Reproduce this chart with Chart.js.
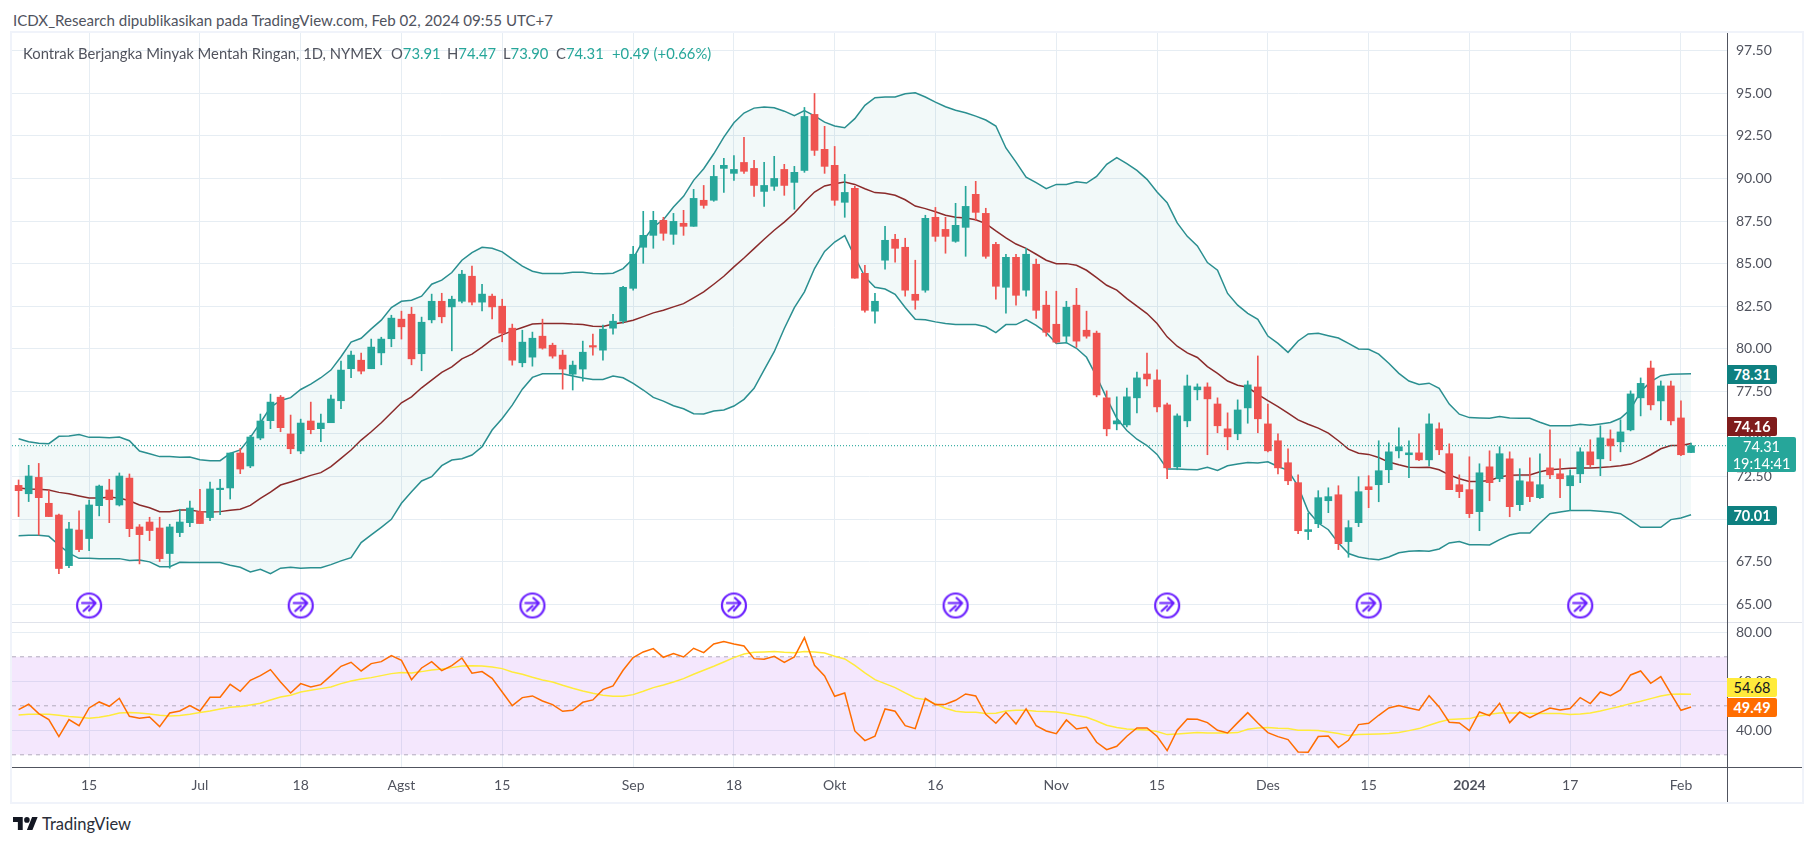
<!DOCTYPE html>
<html>
<head>
<meta charset="utf-8">
<title>Kontrak Berjangka Minyak Mentah Ringan</title>
<script src="https://cdn.jsdelivr.net/npm/chart.js@4/dist/chart.umd.js"></script>
<style>
  html,body{margin:0;padding:0;background:#fff;width:1815px;height:846px;overflow:hidden;font-family:Lato,sans-serif;color:#50535e;}
  canvas{position:absolute;display:block;}
  .txt{position:absolute;white-space:pre;font-size:14.8px;line-height:18px;}
  .line{position:absolute;}
  .box{position:absolute;left:1727px;width:50px;text-align:center;color:#fff;font-size:14.5px;font-weight:700;border-radius:0 2px 2px 0;}
  .g{color:#26a69a;}
</style>
</head>
<body>
<div class="txt" id="title" style="left:13px;top:11px;font-size:15.1px;">ICDX_Research dipublikasikan pada TradingView.com, Feb 02, 2024 09:55 UTC+7</div>
<div class="line" style="left:10px;top:31px;width:1790px;height:769px;border:2px solid #f0f3fa;"></div>
<canvas id="priceChart" width="1790" height="589" style="left:12px;top:33px;"></canvas>
<canvas id="rsiChart" width="1790" height="180" style="left:12px;top:622px;"></canvas>
<div class="line" style="left:12px;top:622px;width:1790px;height:1px;background:#e0e3eb;"></div>
<div class="line" style="left:12px;top:767px;width:1790px;height:1px;background:#50535e;"></div>
<div class="line" style="left:1727px;top:33px;width:1px;height:769px;background:#50535e;"></div>
<div class="txt" style="left:23px;top:44px;">Kontrak Berjangka Minyak Mentah Ringan, 1D, NYMEX</div>
<div class="txt" style="left:391px;top:44px;">O<span class="g">73.91</span></div>
<div class="txt" style="left:447px;top:44px;">H<span class="g">74.47</span></div>
<div class="txt" style="left:503px;top:44px;">L<span class="g">73.90</span></div>
<div class="txt" style="left:556px;top:44px;">C<span class="g">74.31</span></div>
<div class="txt g" style="left:612px;top:44px;">+0.49 (+0.66%)</div>
<div class="box" style="top:365px;height:19px;line-height:19px;background:#0e8080;">78.31</div>
<div class="box" style="top:417px;height:19px;line-height:19px;background:#801c1c;">74.16</div>
<div class="box" style="top:437px;height:35px;width:69px;line-height:17px;padding-top:1px;box-sizing:border-box;background:#26a69a;font-weight:400;">74.31<br>19:14:41</div>
<div class="box" style="top:506px;height:19px;line-height:19px;background:#0e8080;">70.01</div>
<div class="box" style="top:678px;height:19px;line-height:19px;background:#ffeb3b;color:#131722;font-weight:400;">54.68</div>
<div class="box" style="top:698px;height:19px;line-height:19px;background:#ff6d00;">49.49</div>
<svg class="line" style="left:13px;top:817px;" width="25" height="13" viewBox="0 4 36 18" preserveAspectRatio="none"><path fill="#131722" d="M14 22H7V11H0V4h14v18zM28 22h-8l7.5-18h8L28 22z"/><circle fill="#131722" cx="20" cy="8" r="4"/></svg>
<div class="txt" style="left:42px;top:815px;font-size:16.5px;color:#2a2e39;">TradingView</div>
<script>
// ===== DATA =====
const opens=[
71.98,71.49,72.45,70.93,70.24,67.27,69.36,68.86,70.79,71.71,
70.83,72.41,69.54,69.83,69.48,67.98,69.21,69.79,70.44,70.09,
71.73,71.83,73.88,73.12,74.76,75.78,77.16,75.00,74.00,75.76,
75.31,75.66,76.95,78.83,79.33,78.83,79.76,80.59,81.74,82.03,
79.71,81.70,82.79,82.46,82.79,84.26,82.74,83.09,82.50,81.21,
79.18,79.51,80.74,80.21,79.63,78.51,78.81,80.16,79.92,81.21,
81.62,83.55,85.96,86.66,87.54,86.72,87.37,87.19,88.72,88.72,
90.59,90.30,90.94,90.59,89.24,89.54,90.53,89.77,90.47,93.76,
91.71,90.77,88.60,89.42,84.43,82.21,85.20,86.43,85.96,83.20,
83.44,87.72,87.01,86.31,87.13,89.07,87.95,86.13,83.61,85.37,
83.44,84.96,82.56,81.44,80.74,82.56,81.09,80.92,77.12,75.59,
75.53,77.12,78.52,78.17,76.71,73.07,75.77,77.59,77.76,76.76,
75.30,75.01,76.53,77.76,75.59,74.60,73.31,72.14,69.27,69.73,
71.08,71.43,68.68,69.79,71.90,72.02,72.90,74.01,73.78,73.89,
73.48,75.30,73.84,72.02,71.73,70.44,73.07,72.37,73.54,70.85,
72.19,71.26,73.01,72.66,71.96,72.66,73.95,73.54,74.71,74.54,
75.24,77.12,78.87,76.94,77.82,75.94,73.91];
const highs=[
72.30,73.16,73.27,71.71,70.30,69.81,70.48,71.12,72.00,72.34,
72.71,72.65,69.68,70.11,70.11,69.70,70.58,71.06,71.75,72.18,
72.34,73.88,74.15,74.92,76.17,77.34,77.26,76.11,75.87,76.87,
76.17,77.28,79.28,79.86,79.75,80.57,80.68,81.97,82.21,82.44,
81.86,83.21,83.26,83.09,84.61,84.85,83.79,83.21,82.91,81.45,
81.09,80.98,81.74,80.33,79.92,79.28,80.45,80.86,81.39,82.03,
83.67,86.02,88.07,88.07,87.72,87.95,88.13,89.36,89.59,90.77,
91.18,91.35,92.41,91.06,90.94,91.30,90.83,90.71,94.17,94.99,
93.06,91.88,90.24,89.54,84.90,83.26,87.19,86.72,86.49,85.20,
87.84,88.30,87.72,88.54,89.54,89.83,88.25,86.25,85.55,85.55,
85.90,85.26,83.38,83.38,82.79,83.55,82.21,81.04,77.53,77.18,
77.70,78.64,79.75,78.76,76.82,76.18,78.46,77.94,78.00,77.12,
76.24,77.00,78.11,79.58,76.76,75.01,74.13,72.60,70.36,71.67,
71.84,71.96,69.91,72.49,72.55,74.60,74.48,75.36,74.60,75.01,
76.18,75.65,74.42,72.60,73.66,73.25,74.01,74.25,73.95,72.96,
73.60,73.84,75.24,73.54,72.90,74.19,74.66,75.48,75.24,75.83,
77.53,78.29,79.28,78.11,78.11,76.94,74.47];
const lows=[
70.15,71.03,69.07,70.15,66.80,67.15,68.09,68.15,70.19,69.79,
70.77,68.97,67.37,68.74,67.51,67.12,68.97,69.56,69.74,69.91,
70.26,71.18,72.67,73.02,74.66,75.31,75.13,73.84,73.84,75.01,
74.54,75.66,76.48,78.30,78.53,78.83,79.06,80.12,80.57,79.06,
78.71,81.52,81.52,79.88,82.70,82.58,82.23,81.76,80.41,79.04,
78.94,78.98,79.98,79.45,77.63,77.58,78.10,79.63,79.33,80.86,
81.50,83.44,85.02,85.90,86.37,86.13,86.66,87.19,88.25,88.66,
89.18,89.89,90.30,88.95,88.36,89.30,89.01,88.19,90.36,91.35,
90.30,88.42,87.72,84.14,82.15,81.50,84.67,85.08,83.09,82.32,
83.32,86.31,85.61,86.25,85.43,87.54,85.31,82.91,82.09,82.56,
83.09,81.79,80.74,80.33,80.33,80.09,80.62,77.18,74.89,75.24,
75.42,76.24,77.82,76.30,72.37,72.90,75.42,77.00,73.78,75.07,
74.07,74.66,75.63,75.07,73.95,72.66,72.02,69.15,68.80,69.50,
70.38,68.21,67.76,69.56,70.67,71.02,72.14,73.60,72.43,73.43,
73.13,73.78,71.73,71.26,70.09,69.32,71.08,72.20,70.14,70.50,
71.02,71.20,72.37,71.26,70.50,72.14,73.07,72.55,73.43,73.95,
75.18,76.06,76.41,75.83,75.53,73.72,73.90];
const closes=[
71.67,72.53,71.26,70.15,67.10,69.42,68.21,70.83,71.94,71.14,
72.53,69.44,69.09,69.33,67.68,69.54,69.83,70.65,69.74,71.77,
71.77,73.88,72.94,74.82,75.76,76.87,75.37,74.13,75.64,75.25,
75.64,77.05,78.75,79.63,78.69,80.10,80.57,81.80,81.29,79.41,
81.56,82.79,81.88,82.91,84.38,82.74,83.21,82.46,80.92,79.33,
80.39,80.62,80.04,79.57,78.81,79.04,79.80,80.10,81.15,81.62,
83.61,85.55,86.66,87.54,86.78,87.48,87.19,88.83,88.42,90.12,
90.77,90.53,90.42,89.59,89.59,90.00,89.59,90.36,93.64,91.65,
90.71,88.72,89.18,84.14,82.26,82.79,86.37,85.90,83.44,82.85,
87.66,86.60,86.60,87.25,88.36,88.01,85.43,83.67,85.37,83.14,
85.55,82.26,80.97,80.39,82.44,80.45,80.74,77.29,75.30,75.77,
77.18,78.29,78.23,76.59,73.01,76.06,77.82,77.76,77.06,75.48,
74.83,76.41,77.88,75.89,74.01,73.01,72.25,69.32,69.38,71.26,
71.32,68.56,69.50,71.61,71.73,72.84,73.95,74.25,73.89,73.48,
75.59,74.07,71.73,71.61,70.32,72.72,72.14,73.84,70.73,72.25,
71.32,72.02,72.60,72.37,72.55,73.95,73.19,74.77,74.30,75.12,
77.35,77.97,76.71,77.82,75.77,73.78,74.31];
const bbUpper=[
74.72,74.54,74.45,74.43,74.86,74.88,74.97,74.80,74.80,74.78,
74.82,74.60,74.00,73.84,73.67,73.67,73.63,73.65,73.49,73.43,
73.43,73.86,74.06,74.80,75.66,76.56,76.97,77.13,77.61,77.93,
78.30,78.75,79.53,80.39,80.62,81.17,81.68,82.42,82.79,82.85,
83.09,83.79,84.03,84.48,85.20,85.65,85.96,85.90,85.69,85.26,
84.85,84.55,84.42,84.42,84.42,84.50,84.50,84.42,84.40,84.44,
84.71,85.29,86.37,87.15,87.58,88.32,88.95,89.89,90.57,91.45,
92.43,93.27,93.84,94.13,94.19,94.15,93.95,93.68,93.99,93.68,
93.31,93.08,92.98,93.51,94.29,94.74,94.78,94.78,94.97,95.03,
94.78,94.48,94.21,94.01,93.86,93.66,93.43,93.08,91.79,90.96,
90.08,89.75,89.40,89.65,89.65,89.81,89.73,90.12,90.83,91.22,
90.87,90.47,89.95,89.20,88.58,87.39,86.60,86.04,85.06,84.61,
83.25,82.56,82.08,81.73,80.75,80.32,79.79,80.46,80.87,80.91,
80.77,80.63,80.32,79.99,79.97,79.69,79.15,78.56,78.11,77.90,
77.98,77.68,76.75,76.16,75.96,75.94,75.92,76.02,75.94,75.92,
75.92,75.69,75.48,75.48,75.48,75.57,75.51,75.59,75.67,75.92,
76.45,77.49,78.07,78.42,78.50,78.52,78.54];
const bbMiddle=[
71.83,71.77,71.75,71.71,71.57,71.49,71.36,71.24,71.24,71.28,
71.24,71.08,70.83,70.67,70.44,70.44,70.54,70.54,70.44,70.42,
70.44,70.52,70.58,70.81,71.22,71.59,72.00,72.18,72.37,72.57,
72.73,73.08,73.57,74.06,74.64,75.13,75.66,76.25,76.83,77.18,
77.71,78.16,78.61,78.94,79.41,79.69,80.10,80.55,80.82,81.05,
81.25,81.45,81.49,81.49,81.49,81.45,81.43,81.33,81.31,81.45,
81.54,81.68,81.89,82.11,82.26,82.46,82.65,82.99,83.34,83.79,
84.26,84.81,85.33,85.88,86.43,86.96,87.44,87.97,88.62,89.20,
89.56,89.69,89.79,89.65,89.40,89.17,89.13,89.01,88.75,88.38,
88.23,88.05,87.84,87.72,87.68,87.58,87.35,86.92,86.51,86.15,
85.90,85.55,85.20,85.00,85.00,84.90,84.61,84.18,83.73,83.44,
82.95,82.50,82.07,81.48,80.70,80.15,79.76,79.49,78.95,78.56,
78.11,77.86,77.74,77.33,76.96,76.61,76.22,75.83,75.57,75.34,
75.05,74.60,74.11,73.87,73.80,73.62,73.35,73.19,73.05,73.03,
73.05,72.90,72.60,72.37,72.21,72.21,72.27,72.47,72.57,72.59,
72.59,72.78,72.90,72.94,72.98,73.00,73.00,73.03,73.07,73.13,
73.23,73.48,73.78,74.13,74.32,74.32,74.44];
const bbLower=[
69.03,69.05,69.05,68.99,68.48,68.00,67.70,67.70,67.68,67.68,
67.68,67.57,67.60,67.49,67.21,67.21,67.47,67.45,67.45,67.45,
67.45,67.29,67.17,66.90,67.06,66.80,67.12,67.17,67.12,67.14,
67.14,67.33,67.55,67.74,68.62,69.07,69.52,69.99,70.93,71.61,
72.24,72.49,73.14,73.47,73.55,73.76,74.25,75.23,75.91,76.69,
77.63,78.32,78.53,78.53,78.53,78.40,78.28,78.20,78.20,78.40,
78.30,77.97,77.58,77.15,76.93,76.66,76.48,76.19,76.17,76.35,
76.41,76.64,77.03,77.68,78.76,79.83,81.19,82.42,83.34,84.71,
85.72,86.27,86.64,85.39,84.22,83.61,83.51,83.20,82.42,81.74,
81.70,81.58,81.48,81.42,81.42,81.42,81.29,80.95,81.42,81.42,
81.72,81.38,80.95,80.31,80.36,80.03,79.50,78.37,77.10,75.92,
75.20,74.69,74.32,73.80,72.94,72.94,72.92,72.90,73.05,72.86,
73.13,73.23,73.33,73.29,73.37,73.09,72.86,71.92,70.46,69.77,
69.38,68.60,67.98,67.78,67.68,67.61,67.78,68.02,68.11,68.15,
68.11,68.25,68.60,68.68,68.50,68.50,68.48,68.80,69.07,69.19,
69.19,69.77,70.32,70.42,70.50,70.50,70.50,70.46,70.42,70.32,
69.93,69.52,69.52,69.52,69.97,70.07,70.26];
const rsiValues=[
48.44,50.62,46.81,44.36,37.43,44.36,41.91,49.12,51.57,49.80,
53.07,45.72,44.91,45.45,41.51,47.08,47.90,50.07,47.90,53.47,
53.47,58.78,55.92,60.41,62.31,64.76,59.73,55.24,59.05,57.69,
58.64,62.31,66.12,67.75,64.22,67.21,68.03,70.47,68.57,60.68,
65.44,68.03,64.35,66.39,69.52,63.27,63.95,61.23,55.65,50.07,
53.34,54.02,51.98,50.48,47.76,48.17,51.43,52.39,56.60,58.10,
64.49,69.66,71.97,73.33,69.79,71.29,69.93,73.47,71.70,75.23,
76.19,75.23,74.42,69.25,68.98,70.20,67.75,69.93,77.82,66.53,
62.18,53.88,55.24,39.74,35.79,37.56,48.71,47.76,41.91,40.69,
53.07,50.48,50.62,52.25,54.83,54.02,46.54,42.87,47.35,42.59,
48.71,41.91,39.74,38.65,44.23,40.55,41.23,35.11,32.12,33.48,
37.56,40.96,40.96,37.56,31.71,40.01,44.63,44.50,43.14,40.01,
38.92,43.14,47.22,43.00,39.06,37.43,36.20,31.17,31.03,37.43,
37.70,32.94,35.93,42.32,42.87,46.13,49.12,50.07,49.12,48.17,
54.15,49.53,43.27,43.00,39.87,47.49,46.00,51.03,43.14,47.49,
45.18,47.22,49.12,48.31,48.85,53.34,50.89,55.65,54.15,56.47,
62.59,64.22,59.19,61.91,54.97,48.17,49.49];
const rsiMa=[
46.27,46.54,46.54,46.54,46.13,45.59,45.31,44.91,45.31,46.00,
47.08,47.22,47.08,46.67,46.13,45.86,46.00,46.54,47.22,47.90,
48.71,49.39,49.67,50.35,51.03,52.39,53.61,54.29,55.65,56.33,
57.01,57.69,59.05,60.14,60.95,61.50,62.31,63.13,63.54,63.40,
63.95,64.63,65.03,65.58,66.26,66.39,66.26,65.85,65.17,63.81,
62.86,61.63,60.55,59.73,58.37,57.15,56.06,55.11,54.29,53.88,
53.88,54.56,55.92,57.42,58.51,59.73,61.09,62.86,64.49,66.12,
67.89,69.66,71.15,71.83,71.97,72.11,71.83,71.70,72.11,71.97,
71.56,70.20,69.11,66.53,63.40,60.68,59.05,57.42,55.24,53.20,
52.52,50.75,48.99,47.76,47.35,47.35,46.81,46.95,47.90,48.17,
48.17,47.76,47.63,47.49,46.81,46.00,45.31,43.82,42.05,41.10,
40.55,40.28,40.15,39.47,38.24,38.51,38.79,39.06,38.92,38.92,
38.92,39.06,40.42,40.96,41.10,40.83,40.69,40.01,40.01,39.87,
39.33,38.65,37.83,38.24,38.38,38.51,38.65,39.06,39.87,40.69,
42.05,43.41,44.36,44.63,44.77,45.86,46.54,47.08,47.08,47.08,
46.95,46.81,46.81,46.81,46.40,46.67,47.08,47.90,48.85,49.80,
50.89,51.84,52.93,54.02,54.70,54.83,54.68];
const lastPrice=74.31;
const tickBars=[7,18,28,38,48,61,71,81,91,103,113,124,134,144,154,165];
const tickLabels=["15","Jul","18","Agst","15","Sep","18","Okt","16","Nov","15","Des","15","2024","17","Feb"];
const priceTicks=[65,67.5,70,72.5,75,77.5,80,82.5,85,87.5,90,92.5,95,97.5];
const rsiTicks=[40,60,80];
const rsiBands=[70,50,30];
const markerBars=[7,28,51,71,93,114,134,155];
const markerLevel=64.93;

// ===== SETTINGS =====
const X_MIN=-0.655,X_MAX=169.57;
const GRID="#e6edf3",TEXT="#50535e",FONT="Lato";
const UP="#26a69a",DOWN="#ef5350";
Chart.defaults.font.family=FONT;
Chart.defaults.color=TEXT;
const xy=arr=>arr.map((y,x)=>({x,y}));
const flat=y=>[{x:X_MIN,y},{x:X_MAX,y}];
const candleColor=ctx=>closes[ctx.dataIndex]>=opens[ctx.dataIndex]?UP:DOWN;

// custom point for the marker row
function markerIcon(){
  const c=document.createElement("canvas");c.width=30;c.height=30;
  const g=c.getContext("2d");
  g.strokeStyle="#6a1fff";g.lineWidth=2.2;g.lineCap="round";g.lineJoin="round";
  g.beginPath();g.arc(15,15,12,0,Math.PI*2);g.stroke();
  g.beginPath();g.moveTo(8,12.5);g.lineTo(21,12.5);g.moveTo(16,7.5);g.lineTo(21.5,12.5);g.lineTo(15,20);g.moveTo(15,15.5);g.lineTo(9.5,20.5);g.stroke();
  return c;
}

function xScale(height,ticks){
  return {type:"linear",min:X_MIN,max:X_MAX,offset:false,
    afterBuildTicks:s=>{s.ticks=tickBars.map(value=>({value}));},
    afterFit:s=>{s.height=height;s.paddingLeft=0;s.paddingRight=0;},
    border:{display:false},
    grid:{color:GRID,drawTicks:false,offset:false},
    ticks};
}
function yScale(min,max,ticks){
  return {position:"right",min,max,
    afterBuildTicks:s=>{s.ticks=ticks.map(value=>({value}));},
    afterFit:s=>{s.width=75;s.paddingTop=0;s.paddingBottom=0;},
    border:{display:false},
    grid:{color:GRID,drawTicks:false},
    ticks:{padding:9,color:TEXT,font:{size:14},callback:v=>v.toFixed(2)}};
}

// ===== PRICE PANE =====
new Chart(document.getElementById("priceChart"),{
  type:"bar",
  data:{datasets:[
    {type:"line",data:xy(bbUpper),borderColor:"#2a8f90",borderWidth:1.5,pointRadius:0,fill:"+1",backgroundColor:"rgba(0,128,128,0.05)",order:9},
    {type:"line",data:xy(bbLower),borderColor:"#2a8f90",borderWidth:1.5,pointRadius:0,fill:false,order:8},
    {type:"line",data:xy(bbMiddle),borderColor:"#8a2b2b",borderWidth:1.5,pointRadius:0,fill:false,order:7},
    {type:"line",data:flat(lastPrice),borderColor:"#0f9d90",borderWidth:1,borderDash:[1,2],pointRadius:0,fill:false,order:6},
    {data:lows.map((l,x)=>({x,y:[l,highs[x]]})),backgroundColor:candleColor,barThickness:1,grouped:false,order:3},
    {data:opens.map((o,x)=>({x,y:[o,closes[x]]})),backgroundColor:candleColor,barThickness:7,minBarLength:1.5,grouped:false,order:2},
    {type:"line",data:markerBars.map(x=>({x,y:markerLevel})),showLine:false,pointStyle:markerIcon(),pointRadius:15,fill:false,order:1}
  ]},
  options:{responsive:false,animation:false,devicePixelRatio:1,
    layout:{padding:0,autoPadding:false},
    plugins:{legend:{display:false},tooltip:{enabled:false}},
    scales:{
      x:xScale(0,{display:false,autoSkip:false}),
      y:yScale(63.96,98.54,priceTicks)
    }}
});

// ===== RSI PANE =====
new Chart(document.getElementById("rsiChart"),{
  type:"line",
  data:{datasets:[
    {data:flat(rsiBands[0]),borderColor:"#b2abbd",borderWidth:1,borderDash:[4,4],pointRadius:0,fill:"+1",backgroundColor:"rgba(165,60,240,0.12)",order:9},
    {data:flat(rsiBands[2]),borderColor:"#b2abbd",borderWidth:1,borderDash:[4,4],pointRadius:0,fill:false,order:8},
    {data:flat(rsiBands[1]),borderColor:"#b2abbd",borderWidth:1,borderDash:[4,4],pointRadius:0,fill:false,order:7},
    {data:xy(rsiMa),borderColor:"#ffeb3b",borderWidth:1.5,pointRadius:0,fill:false,order:5},
    {data:xy(rsiValues),borderColor:"#ff6d00",borderWidth:1.5,pointRadius:0,fill:false,order:4}
  ]},
  options:{responsive:false,animation:false,devicePixelRatio:1,
    layout:{padding:0,autoPadding:false},
    plugins:{legend:{display:false},tooltip:{enabled:false}},
    scales:{
      x:xScale(35,{autoSkip:false,maxRotation:0,padding:10,color:TEXT,
        font:ctx=>({size:14,weight:ctx.tick&&ctx.tick.value===144?"bold":"normal"}),
        callback:v=>tickLabels[tickBars.indexOf(v)]}),
      y:yScale(25.02,84.2,rsiTicks)
    }}
});
</script>
</body>
</html>
